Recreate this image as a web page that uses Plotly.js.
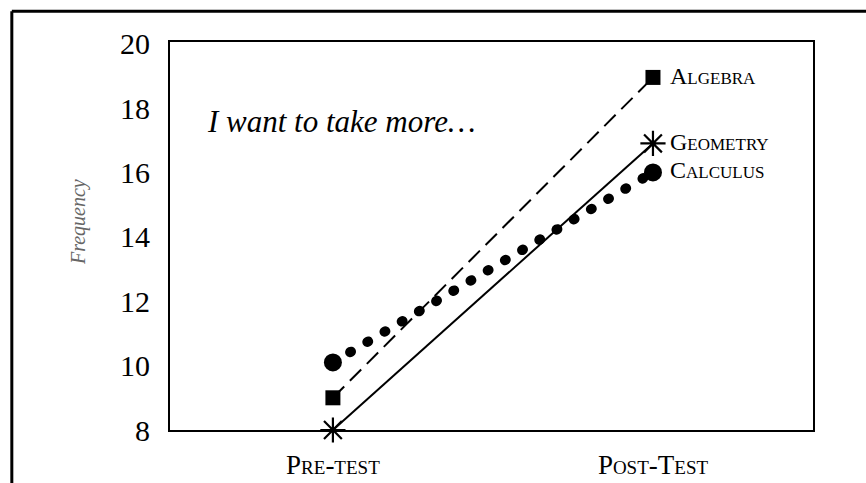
<!DOCTYPE html>
<html>
<head>
<meta charset="utf-8">
<script src="https://cdn.plot.ly/plotly-3.0.1.min.js"></script>
<style>
  html, body { margin: 0; padding: 0; background: #fff; }
  #chart { width: 866px; height: 483px; }
  .scatterlayer .trace:nth-of-type(3) .js-line { stroke-linecap: round; }
</style>
</head>
<body>
<div id="chart"></div>
<script>
const categories = ["Pre-test", "Post-Test"];
const seriesNames = ["Geometry", "Algebra", "Calculus"];
const geometry = [8, 16.9];
const algebra = [9, 18.95];
const calculus = [10.1, 16.0];
const yTicks = [8, 10, 12, 14, 16, 18, 20];

const serif = "Liberation Serif, Times New Roman, serif";

const traces = [
  {
    x: categories, y: geometry, name: seriesNames[0], type: "scatter", mode: "lines+markers",
    line: { color: "#000", width: 2 },
    marker: { symbol: "asterisk-open", size: 21, color: "#000", line: { color: "#000", width: 2.2 } },
    cliponaxis: false
  },
  {
    x: categories, y: algebra, name: seriesNames[1], type: "scatter", mode: "lines+markers",
    line: { color: "#000", width: 2, dash: "16px,8px" },
    marker: { symbol: "square", size: 15, color: "#000" },
    cliponaxis: false
  },
  {
    x: categories, y: calculus, name: seriesNames[2], type: "scatter", mode: "lines+markers",
    line: { color: "#000", width: 10, dash: "1px,19px" },
    marker: { symbol: "circle", size: 18, color: "#000" },
    cliponaxis: false
  }
];

const labelFont = { family: serif, size: 24, color: "#000", variant: "small-caps" };

const layout = {
  width: 866, height: 483,
  margin: { l: 170, r: 53, t: 42, b: 53 },
  paper_bgcolor: "#fff", plot_bgcolor: "#fff",
  showlegend: false,
  xaxis: {
    type: "category",
    range: [-0.509, 1.5],
    showgrid: false, zeroline: false,
    showline: true, mirror: true, linecolor: "#000", linewidth: 2,
    ticks: "", ticklabelstandoff: 10,
    tickfont: { family: serif, size: 27, color: "#000", variant: "small-caps" }
  },
  yaxis: {
    range: [8, 20.05],
    tickvals: yTicks,
    showgrid: false, zeroline: false,
    showline: true, mirror: true, linecolor: "#000", linewidth: 2,
    ticks: "", ticklabelstandoff: 12,
    tickfont: { family: serif, size: 30, color: "#000" }
  },
  annotations: [
    { xref: "x", yref: "y", x: 1, y: algebra[1], text: seriesNames[1], showarrow: false,
      xanchor: "left", yanchor: "middle", xshift: 15, yshift: 1, font: labelFont },
    { xref: "x", yref: "y", x: 1, y: geometry[1], text: seriesNames[0], showarrow: false,
      xanchor: "left", yanchor: "middle", xshift: 15, yshift: 1, font: labelFont },
    { xref: "x", yref: "y", x: 1, y: calculus[1], text: seriesNames[2], showarrow: false,
      xanchor: "left", yanchor: "middle", xshift: 15, yshift: 2, font: labelFont },
    { xref: "paper", yref: "paper", x: 0.055, y: 0.796, text: "I want to take more\u2026", showarrow: false,
      xanchor: "left", yanchor: "middle",
      font: { family: serif, size: 31, color: "#000", style: "italic" } },
    { xref: "paper", yref: "paper", x: -0.143, y: 0.536, text: "Frequency", showarrow: false,
      textangle: -90, xanchor: "center", yanchor: "middle",
      font: { family: serif, size: 20, color: "#666", style: "italic" } }
  ],
  shapes: [
    { type: "line", xref: "paper", yref: "paper", x0: -0.246, x1: 1.09, y0: 1.079, y1: 1.079,
      line: { color: "#000", width: 3 } },
    { type: "line", xref: "paper", yref: "paper", x0: -0.246, x1: -0.246, y0: 1.079, y1: -0.15,
      line: { color: "#000", width: 3 } }
  ]
};

Plotly.newPlot("chart", traces, layout, { staticPlot: true, displayModeBar: false });
</script>
</body>
</html>
